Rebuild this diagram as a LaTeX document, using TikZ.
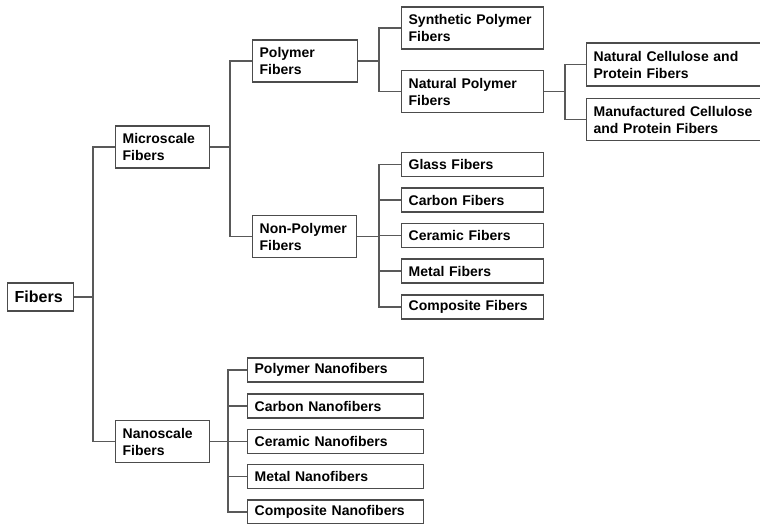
\documentclass[tikz,border=0pt]{standalone}
\usepackage{fontspec}
\setmainfont{Liberation Sans}
\usepackage{tikz}
\usetikzlibrary{calc,positioning}

\definecolor{boxgray}{gray}{0.3}
\definecolor{linkgray}{gray}{0.35}

\tikzset{
  fbox/.style={draw=boxgray, line width=1.3pt, anchor=west, align=left,
    inner xsep=7pt, inner ysep=0pt, font=\fontsize{14}{17}\selectfont\bfseries},
  twoline/.style={fbox, minimum height=42pt},
  oneline/.style={fbox, minimum height=24pt},
  link/.style={draw=linkgray, line width=1.2pt}
}

\begin{document}
\begin{tikzpicture}[x=1pt,y=-1pt]
      \useasboundingbox (0,0) rectangle (760,523);

      % root and first level
      \node[fbox, minimum height=28pt, text width=52pt, font=\fontsize{16}{18}\selectfont\bfseries] (Fib) at (7,297) {Fibers};
      \node[twoline, text width=80pt] (Micro) at (115,147) {Microscale\\Fibers};
      \node[twoline, text width=80pt] (Nano) at (115,441.5) {Nanoscale\\Fibers};

      % microscale branch
      \node[twoline, text width=91pt] (Poly) at (252,61) {Polymer\\Fibers};
      \node[twoline, text width=90pt] (NonPoly) at (252,236.5) {Non-Polymer\\Fibers};
      \node[twoline, text width=128pt] (Synth) at (401,28) {Synthetic Polymer\\Fibers};
      \node[twoline, text width=128pt] (NatPoly) at (401,91.5) {Natural Polymer\\Fibers};
      \node[twoline, minimum height=43pt, text width=170pt] (NatCell) at (586,64.5) {Natural Cellulose and\\Protein Fibers};
      \node[twoline, minimum height=42pt, text width=170pt] (ManCell) at (586,119.5) {Manufactured Cellulose\\and Protein Fibers};

      \node[oneline, text width=128pt] (Glass) at (401,164.5) {Glass Fibers};
      \node[oneline, text width=128pt] (Carbon) at (401,200) {Carbon Fibers};
      \node[oneline, text width=128pt] (Ceramic) at (401,235.5) {Ceramic Fibers};
      \node[oneline, text width=128pt] (Metal) at (401,271) {Metal Fibers};
      \node[oneline, text width=128pt] (Compo) at (401,307) {Composite Fibers};

      % nanoscale branch
      \node[oneline, text width=162pt] (PolyNano) at (247,370) {Polymer Nanofibers};
      \node[oneline, text width=162pt] (CarbonNano) at (247,406) {Carbon Nanofibers};
      \node[oneline, text width=162pt] (CeramicNano) at (247,441.5) {Ceramic Nanofibers};
      \node[oneline, text width=162pt] (MetalNano) at (247,476.5) {Metal Nanofibers};
      \node[oneline, text width=162pt] (CompoNano) at (247,512) {Composite Nanofibers};

      % connectors
      \draw[link] (Micro.west) -- ++(-22,0) |- (Fib.east);
      \draw[link] (Nano.west) -- ++(-22,0) |- (Fib.east);

      \draw[link] (Poly.west) -- ++(-22,0) |- (Micro.east);
      \draw[link] (NonPoly.west) -- ++(-22,0) |- (Micro.east);

      \draw[link] (Synth.west) -- ++(-22,0) |- (Poly.east);
      \draw[link] (NatPoly.west) -- ++(-22,0) |- (Poly.east);

      \draw[link] (NatCell.west) -- ++(-21,0) |- (NatPoly.east);
      \draw[link] (ManCell.west) -- ++(-21,0) |- (NatPoly.east);

      \draw[link] (Glass.west) -- ++(-22,0) |- (NonPoly.east);
      \draw[link] (Carbon.west) -- ++(-22,0) |- (NonPoly.east);
      \draw[link] (Ceramic.west) -- ++(-22,0) |- (NonPoly.east);
      \draw[link] (Metal.west) -- ++(-22,0) |- (NonPoly.east);
      \draw[link] (Compo.west) -- ++(-22,0) |- (NonPoly.east);

      \draw[link] (PolyNano.west) -- ++(-19,0) |- (Nano.east);
      \draw[link] (CarbonNano.west) -- ++(-19,0) |- (Nano.east);
      \draw[link] (CeramicNano.west) -- ++(-19,0) |- (Nano.east);
      \draw[link] (MetalNano.west) -- ++(-19,0) |- (Nano.east);
      \draw[link] (CompoNano.west) -- ++(-19,0) |- (Nano.east);
 \end{tikzpicture}
\end{document}
